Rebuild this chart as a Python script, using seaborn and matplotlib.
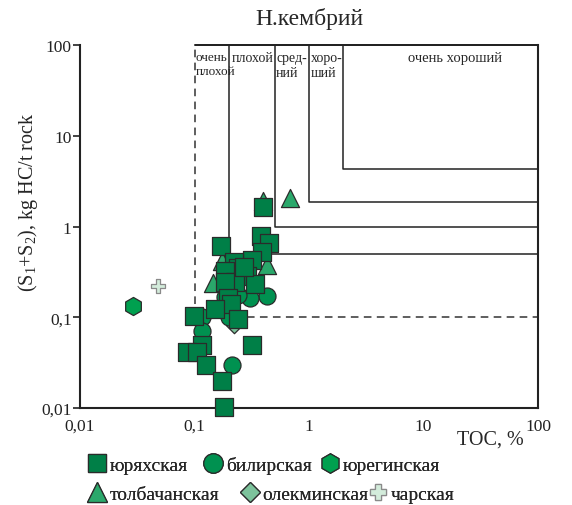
import numpy as np
import pandas as pd
import matplotlib
matplotlib.use("Agg")
import matplotlib.pyplot as plt
import seaborn as sns
from matplotlib.lines import Line2D
from matplotlib.ticker import FixedLocator, FixedFormatter, NullLocator

# ---------------- data ----------------
title = "Н.кембрий"
x_label = "TOC, %"
y_label = "(S$_1$+S$_2$), kg HC/t rock"

tick_values = [0.01, 0.1, 1, 10, 100]
tick_labels = ["0,01", "0,1", "1", "10", "100"]

# classification boundaries (TOC, S1+S2)
class_toc = [0.1, 0.2, 0.5, 1.0, 2.0]
class_s = [0.1, 0.5, 1.0, 1.85, 4.3]
class_names = ["очень\nплохой", "плохой", "сред-\nний", "хоро-\nший", "очень хороший"]

# юряхская (squares)
yur_toc = [0.40, 0.38, 0.45, 0.17, 0.39, 0.32, 0.22, 0.24, 0.185, 0.29, 0.226, 0.185,
           0.34, 0.196, 0.208, 0.15, 0.099, 0.24, 0.116, 0.32, 0.086, 0.105, 0.126,
           0.174, 0.18, 0.27]
yur_s = [1.64, 0.78, 0.66, 0.61, 0.52, 0.43, 0.41, 0.35, 0.32, 0.285, 0.245, 0.245,
         0.23, 0.163, 0.14, 0.123, 0.103, 0.096, 0.050, 0.050, 0.041, 0.041, 0.030,
         0.020, 0.0103, 0.36]

# билирская (circles)
bil_toc = [0.43, 0.305, 0.185, 0.20, 0.116, 0.116, 0.213, 0.24]
bil_s = [0.171, 0.163, 0.167, 0.101, 0.101, 0.071, 0.030, 0.175]

# юрегинская (hexagon)
yureg_toc = [0.029]
yureg_s = [0.133]

# толбачанская (triangles)
tol_toc = [0.40, 0.68, 0.174, 0.43, 0.145]
tol_s = [1.91, 2.06, 0.417, 0.376, 0.239]

# олекминская (diamond)
olek_toc = [0.22]
olek_s = [0.082]

# чарская (cross)
char_toc = [0.048]
char_s = [0.221]

series_names = ["юряхская", "билирская", "юрегинская", "толбачанская", "олекминская", "чарская"]
series_colors = ["#007F47", "#009150", "#00A04F", "#2AA86B", "#7DC39C", "#D3ECDB"]

# ---------------- style ----------------
sns.set_theme(style="white")
SERIF = ["Liberation Serif", "DejaVu Serif"]
plt.rcParams["font.family"] = SERIF
plt.rcParams["mathtext.default"] = "regular"

W, H = 572, 506
fig = plt.figure(figsize=(W / 100, H / 100), dpi=100)
ax = fig.add_axes([80 / W, 1 - 409 / H, (538 - 80) / W, (409 - 46) / H])
ax.set_xscale("log")
ax.set_yscale("log")
ax.set_xlim(0.01, 100)
ax.set_ylim(0.01, 100)

edge = "#2b2b2b"
lw_box = 1.1

# classification boxes
ax.plot([class_toc[0], class_toc[0]], [class_s[0], 100], ls=(0, (5, 3.5)), color="#333333", lw=lw_box, zorder=1)
ax.plot([class_toc[0], 100], [class_s[0], class_s[0]], ls=(0, (5, 3.5)), color="#333333", lw=lw_box, zorder=1)
ax.plot([class_toc[0], 100], [100, 100], color="#222222", lw=lw_box * 1.3, zorder=1, clip_on=False)
for tx, sy in zip(class_toc[1:], class_s[1:]):
    ax.plot([tx, tx, 100], [100, sy, sy], color="#222222", lw=lw_box, zorder=1)

# class labels
label_x = [0.103, 0.211, 0.515, 1.035]
label_fs = [9.5, 10, 10, 10]
for lx, fs, name in zip(label_x, label_fs, class_names[:4]):
    ax.text(lx, 86, name, ha="left", va="top", fontsize=fs, linespacing=1.25, zorder=2)
ax.text(19, 86, class_names[4], ha="center", va="top", fontsize=10.5, zorder=2)

# scatter series
common = dict(edgecolor=edge, linewidth=0.9, ax=ax, legend=False, clip_on=False)
sns.scatterplot(x=tol_toc, y=tol_s, marker="^", s=170, color=series_colors[3], zorder=3, **common)
sns.scatterplot(x=bil_toc, y=bil_s, marker="o", s=150, color=series_colors[1], zorder=4, **common)
sns.scatterplot(x=olek_toc, y=olek_s, marker="D", s=70, color=series_colors[4], zorder=3.5, **common)
sns.scatterplot(x=yur_toc, y=yur_s, marker="s", s=150, color=series_colors[0], zorder=5, **common)
sns.scatterplot(x=yureg_toc, y=yureg_s, marker="h", s=170, color=series_colors[2], zorder=5, **common)
sns.scatterplot(x=char_toc, y=char_s, marker="P", s=110, color=series_colors[5],
                edgecolor="#8a8a8a", linewidth=0.9, ax=ax, legend=False, zorder=5)

# axes styling
for side in ["left", "bottom", "right"]:
    ax.spines[side].set_visible(True)
    ax.spines[side].set_color("#222222")
    ax.spines[side].set_linewidth(1.5)
ax.spines["top"].set_visible(False)

ax.xaxis.set_major_locator(FixedLocator(tick_values))
ax.xaxis.set_major_formatter(FixedFormatter(tick_labels))
ax.yaxis.set_major_locator(FixedLocator(tick_values))
ax.yaxis.set_major_formatter(FixedFormatter(tick_labels))
ax.xaxis.set_minor_locator(NullLocator())
ax.yaxis.set_minor_locator(NullLocator())
ax.tick_params(axis="x", length=0, pad=7, labelsize=12.5, colors="#222222")
ax.tick_params(axis="y", length=5, width=1.2, direction="out", left=True, pad=1, labelsize=12.5, colors="#222222")
ax.grid(False)

ax.set_title(title, fontsize=17, pad=15)
ax.set_ylabel(y_label, fontsize=14.5)
ax.yaxis.set_label_coords((40 - 80) / 458, 0.57)
fig.text(490 / W, 1 - 440 / H, x_label, fontsize=14.5, ha="center", va="center")

# legend entries (one small legend per entry, placed like the reference)
def handle(marker, color, ms, ec=edge):
    return Line2D([], [], ls="none", marker=marker, markersize=ms, markerfacecolor=color,
                  markeredgecolor=ec, markeredgewidth=0.9)

handles = [handle("s", series_colors[0], 13), handle("o", series_colors[1], 14),
           handle("h", series_colors[2], 14), handle("^", series_colors[3], 14),
           handle("D", series_colors[4], 10), handle("P", series_colors[5], 11, "#8a8a8a")]
marker_px = [(97, 466), (213, 466), (330, 466), (97, 495), (250, 495), (378, 495)]

LEG_FS = 14
hl = 0.9
half_handle_px = hl * LEG_FS * 100 / 72 / 2
for h, name, (mx, my) in zip(handles, series_names, marker_px):
    lg = fig.legend([h], [name], loc="center left",
                    bbox_to_anchor=((mx - half_handle_px) / W, 1 - my / H),
                    frameon=False, prop=dict(family=SERIF, size=LEG_FS),
                    handlelength=hl, handletextpad=0.2, borderaxespad=0, borderpad=0)
    fig.add_artist(lg)

fig.savefig("out.png", dpi=100)
